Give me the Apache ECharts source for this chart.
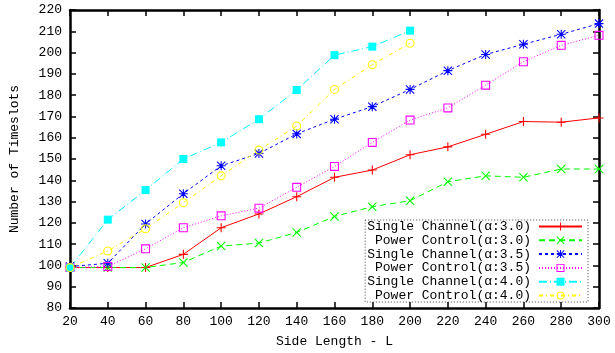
<!DOCTYPE html>
<html>
<head>
<meta charset="utf-8">
<script src="https://cdn.jsdelivr.net/npm/echarts@6/dist/echarts.min.js"></script>
<style>
  html, body { margin: 0; padding: 0; background: #fff; }
  #chart { width: 615px; height: 353px; }
</style>
</head>
<body>
<div id="chart"></div>
<script>
// side length L
var sideLength = [20, 40, 60, 80, 100, 120, 140, 160, 180, 200, 220, 240, 260, 280, 300];

var seriesNames = [
    'Single Channel(α:3.0)',
    'Power Control(α:3.0)',
    'Single Channel(α:3.5)',
    'Power Control(α:3.5)',
    'Single Channel(α:4.0)',
    'Power Control(α:4.0)'
];

// number of timeslots
var single30 = [99, 99, 99, 105.2, 117.7, 124.2, 132.3, 141.4, 144.8, 152, 155.7, 161.6, 167.6, 167.3, 169.3];
var power30 = [99, 99, 99, 101.4, 109.1, 110.5, 115.5, 123, 127.6, 130.4, 139.3, 142.1, 141.4, 145.3, 145.3];
var single35 = [99.5, 101, 119.5, 133.7, 146.8, 152.6, 161.8, 168.7, 174.6, 182.7, 191.5, 199.1, 203.9, 208.6, 213.6];
var power35 = [99, 99.5, 107.8, 117.7, 123.3, 126.9, 136.7, 146.5, 157.8, 168.3, 174, 184.7, 195.7, 203.4, 208.1];
var single40 = [99, 121.5, 135.4, 150, 157.8, 168.7, 182.4, 198.8, 202.8, 210.3];
var power40 = [99, 106.8, 117.2, 129.5, 142.1, 154.2, 165.5, 182.7, 194.3, 204.4];

var monoFont = '"Liberation Mono", "DejaVu Sans Mono", monospace';

// gnuplot-like point shapes
var plusPath = 'path://M4.4,0H5.6V4.4H10V5.6H5.6V10H4.4V5.6H0V4.4H4.4Z';
var crossPath = 'path://M0.85,0L5,4.15L9.15,0L10,0.85L5.85,5L10,9.15L9.15,10L5,5.85L0.85,10L0,9.15L4.15,5L0,0.85Z';
var starPath = 'path://M4.4,0H5.6V4.4H10V5.6H5.6V10H4.4V5.6H0V4.4H4.4Z M0.85,0L5,4.15L9.15,0L10,0.85L5.85,5L10,9.15L9.15,10L5,5.85L0.85,10L0,9.15L4.15,5L0,0.85Z';
var boxPath = 'path://M0,0H10V10H0Z M1.2,1.2V8.8H8.8V1.2Z';
var ringPath = 'path://M0,5A5,5 0 1,1 10,5A5,5 0 1,1 0,5Z M1.2,5A3.8,3.8 0 1,0 8.8,5A3.8,3.8 0 1,0 1.2,5Z';

function pairs(vals) {
    var out = [];
    for (var i = 0; i < vals.length; i++) {
        out.push([sideLength[i], vals[i]]);
    }
    return out;
}

function makeSeries(name, vals, color, dash, symbol, size) {
    return {
        name: name,
        type: 'line',
        data: pairs(vals),
        symbol: symbol,
        symbolSize: size,
        showAllSymbol: true,
        animation: false,
        itemStyle: { color: color },
        lineStyle: { color: color, width: 1, type: dash }
    };
}

var chart = echarts.init(document.getElementById('chart'));

var axisLineStyle = { color: '#000', width: 2.5 };
var tickStyle = { show: true, inside: true, length: 6, lineStyle: { color: '#000', width: 1.5 } };

var option = {
    backgroundColor: '#fff',
    animation: false,
    grid: {
        left: 68,
        right: 16,
        top: 10,
        bottom: 43.5
    },
    legend: {
        orient: 'vertical',
        align: 'right',
        right: 27,
        top: 220,
        padding: [0, 5, 0, 2],
        itemWidth: 43,
        itemHeight: 10,
        itemGap: 0.8,
        backgroundColor: '#fff',
        borderColor: '#444',
        borderWidth: 1,
        borderType: [1, 2],
        textStyle: {
            fontFamily: monoFont,
            fontSize: 13,
            color: '#000',
            padding: [0, 3, 0, 0]
        },
        data: seriesNames
    },
    xAxis: [
        {
            type: 'value',
            min: 20,
            max: 300,
            interval: 20,
            name: 'Side Length - L',
            nameLocation: 'middle',
            nameGap: 27,
            nameTextStyle: { fontFamily: monoFont, fontSize: 13, color: '#000' },
            axisLine: { show: true, lineStyle: axisLineStyle },
            axisTick: tickStyle,
            axisLabel: { fontFamily: monoFont, fontSize: 13, color: '#000', margin: 7 },
            splitLine: { show: false }
        },
        {
            type: 'value',
            position: 'top',
            min: 20,
            max: 300,
            interval: 20,
            axisLine: { show: true, lineStyle: axisLineStyle },
            axisTick: tickStyle,
            axisLabel: { show: false },
            splitLine: { show: false }
        }
    ],
    yAxis: [
        {
            type: 'value',
            min: 80,
            max: 220,
            interval: 10,
            name: 'Number of Timeslots',
            nameLocation: 'middle',
            nameGap: 49,
            nameTextStyle: { fontFamily: monoFont, fontSize: 13, color: '#000' },
            axisLine: { show: true, lineStyle: axisLineStyle },
            axisTick: tickStyle,
            axisLabel: { fontFamily: monoFont, fontSize: 13, color: '#000', margin: 8 },
            splitLine: { show: false }
        },
        {
            type: 'value',
            position: 'right',
            min: 80,
            max: 220,
            interval: 10,
            axisLine: { show: true, lineStyle: axisLineStyle },
            axisTick: tickStyle,
            axisLabel: { show: false },
            splitLine: { show: false }
        }
    ],
    series: [
        makeSeries(seriesNames[0], single30, '#ff0000', 'solid', plusPath, 9),
        makeSeries(seriesNames[1], power30, '#00ff00', [6, 4], crossPath, 9),
        makeSeries(seriesNames[2], single35, '#0000ff', [3, 3], starPath, 9),
        makeSeries(seriesNames[3], power35, '#ff00ff', [1, 2], boxPath, 9),
        makeSeries(seriesNames[4], single40, '#00ffff', [8, 3, 1, 3], 'rect', 8),
        makeSeries(seriesNames[5], power40, '#ffff00', [4, 3, 1, 3], ringPath, 9)
    ]
};

chart.setOption(option);
</script>
</body>
</html>
